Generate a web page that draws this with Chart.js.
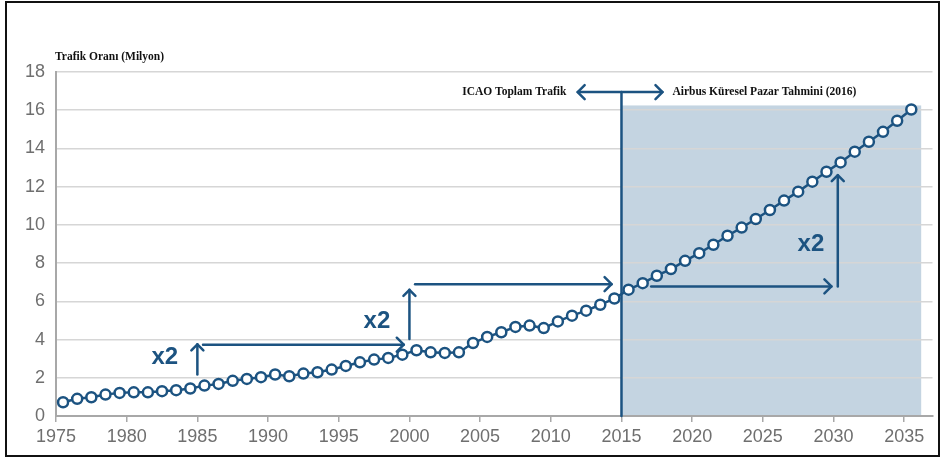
<!DOCTYPE html>
<html>
<head>
<meta charset="utf-8">
<script src="https://cdn.jsdelivr.net/npm/chart.js@4.4.0/dist/chart.umd.min.js"></script>
<style>
html, body { margin: 0; padding: 0; background: #fff; }
#wrap { position: relative; width: 940px; height: 459px; }
#frame { position: absolute; left: 5px; top: 1px; width: 931px; height: 452px; border: 2px solid #111; pointer-events: none; }
</style>
</head>
<body>
<div id="wrap">
  <canvas id="chart" width="940" height="459"></canvas>
  <div id="frame"></div>
</div>
<script>
// yearly values (points sit mid-year)
const years = [1975, 1976, 1977, 1978, 1979, 1980, 1981, 1982, 1983, 1984,
               1985, 1986, 1987, 1988, 1989, 1990, 1991, 1992, 1993, 1994,
               1995, 1996, 1997, 1998, 1999, 2000, 2001, 2002, 2003, 2004,
               2005, 2006, 2007, 2008, 2009, 2010, 2011, 2012, 2013, 2014,
               2015, 2016, 2017, 2018, 2019, 2020, 2021, 2022, 2023, 2024,
               2025, 2026, 2027, 2028, 2029, 2030, 2031, 2032, 2033, 2034, 2035];
const traffic = [0.72, 0.90, 0.98, 1.12, 1.21, 1.24, 1.24, 1.30, 1.35, 1.44,
                 1.59, 1.68, 1.84, 1.94, 2.03, 2.17, 2.08, 2.22, 2.29, 2.43,
                 2.62, 2.81, 2.95, 3.04, 3.21, 3.44, 3.33, 3.30, 3.33, 3.82,
                 4.14, 4.38, 4.66, 4.73, 4.60, 4.95, 5.25, 5.51, 5.82, 6.15,
                 6.61, 6.95, 7.34, 7.69, 8.12, 8.52, 8.96, 9.43, 9.86, 10.31,
                 10.78, 11.27, 11.74, 12.26, 12.78, 13.27, 13.83, 14.35, 14.87, 15.45, 16.04];
const xTickLabels = ['1975', '1980', '1985', '1990', '1995', '2000', '2005',
                     '2010', '2015', '2020', '2025', '2030', '2035'];
const yTickLabels = ['0', '2', '4', '6', '8', '10', '12', '14', '16', '18'];

const BLUE = '#1c5381';
const SHADE = '#c4d4e1';
const GREY_TXT = '#6f6f6f';

function head(ctx, x, y, dir, s) {
  ctx.beginPath();
  if (dir === 'right') { ctx.moveTo(x - s, y - s); ctx.lineTo(x, y); ctx.lineTo(x - s, y + s); }
  if (dir === 'left') { ctx.moveTo(x + s, y - s); ctx.lineTo(x, y); ctx.lineTo(x + s, y + s); }
  if (dir === 'up') { ctx.moveTo(x - s, y + s); ctx.lineTo(x, y); ctx.lineTo(x + s, y + s); }
  ctx.stroke();
}

function line(ctx, x0, y0, x1, y1) {
  ctx.beginPath();
  ctx.moveTo(x0, y0);
  ctx.lineTo(x1, y1);
  ctx.stroke();
}

const overlay = {
  id: 'overlay',
  beforeDraw(chart) {
    const { ctx, scales: { x, y } } = chart;
    // forecast region 2015 -> end
    ctx.save();
    ctx.fillStyle = SHADE;
    const x0 = x.getPixelForValue(2015), x1 = x.getPixelForValue(2036.2);
    const y0 = y.getPixelForValue(16.25), y1 = y.getPixelForValue(0);
    ctx.fillRect(x0, y0, x1 - x0, y1 - y0);
    ctx.restore();
  },
  beforeDatasetsDraw(chart) {
    const { ctx, scales: { x, y } } = chart;
    const X = v => x.getPixelForValue(v), Y = v => y.getPixelForValue(v);
    ctx.save();
    ctx.strokeStyle = BLUE;
    ctx.lineWidth = 2.5;
    ctx.lineCap = 'round';
    ctx.lineJoin = 'round';

    // 2015 divider + double arrow
    line(ctx, X(2015), Y(0), X(2015), Y(16.95));
    line(ctx, X(2011.9), Y(16.95), X(2017.9), Y(16.95));
    head(ctx, X(2011.9), Y(16.95), 'left', 7);
    head(ctx, X(2017.9), Y(16.95), 'right', 7);

    // x2 (1985 -> 2000)
    line(ctx, X(1985), Y(2.17), X(1985), Y(3.75));
    head(ctx, X(1985), Y(3.75), 'up', 6);
    line(ctx, X(1985.4), Y(3.73), X(1999.6), Y(3.73));
    head(ctx, X(1999.6), Y(3.73), 'right', 7);

    // x2 (2000 -> 2015)
    line(ctx, X(2000), Y(4.03), X(2000), Y(6.6));
    head(ctx, X(2000), Y(6.6), 'up', 6);
    line(ctx, X(2000.4), Y(6.9), X(2014.3), Y(6.9));
    head(ctx, X(2014.3), Y(6.9), 'right', 7);

    // x2 (2015 -> 2030)
    line(ctx, X(2017.1), Y(6.78), X(2029.85), Y(6.78));
    head(ctx, X(2029.85), Y(6.78), 'right', 7);
    line(ctx, X(2030.3), Y(6.78), X(2030.3), Y(12.6));
    head(ctx, X(2030.3), Y(12.6), 'up', 6);

    ctx.fillStyle = BLUE;
    ctx.font = 'bold 24px "Liberation Sans", Arial, sans-serif';
    ctx.textAlign = 'center';
    ctx.textBaseline = 'middle';
    ctx.fillText('x2', X(1982.7), Y(3.05));
    ctx.fillText('x2', X(1997.7), Y(4.93));
    ctx.fillText('x2', X(2028.4), Y(8.96));

    ctx.fillStyle = '#111';
    ctx.font = 'bold 11.5px "Liberation Serif", "Times New Roman", serif';
    ctx.textAlign = 'right';
    ctx.fillText('ICAO Toplam Trafik', X(2011.1), Y(16.95));
    ctx.textAlign = 'left';
    ctx.fillText('Airbus Küresel Pazar Tahmini (2016)', X(2018.6), Y(16.95));
    ctx.fillText('Trafik Oranı (Milyon)', chart.chartArea.left - 1, chart.chartArea.top - 15);
    ctx.restore();
  }
};

const ctx = document.getElementById('chart').getContext('2d');
const chart = new Chart(ctx, {
  type: 'line',
  data: {
    datasets: [{
      data: years.map((yr, i) => ({ x: yr + 0.5, y: traffic[i] })),
      borderColor: BLUE,
      borderWidth: 2.5,
      pointRadius: 5,
      pointBorderWidth: 2.5,
      pointBackgroundColor: '#fff',
      pointBorderColor: BLUE,
      tension: 0
    }]
  },
  options: {
    responsive: false,
    animation: false,
    layout: { padding: { left: 0, top: 72, right: 7, bottom: 0 } },
    plugins: { legend: { display: false }, tooltip: { enabled: false } },
    scales: {
      x: {
        type: 'linear',
        min: 1975,
        max: 2037,
        afterBuildTicks: s => { s.ticks = xTickLabels.map(v => ({ value: Number(v) })); },
        afterFit: s => { s.height = 43; },
        ticks: {
          callback: v => String(v),
          color: GREY_TXT,
          padding: 4,
          maxRotation: 0,
          autoSkip: false,
          font: { family: '"Liberation Sans", Arial, sans-serif', size: 18 }
        },
        grid: { drawOnChartArea: false, tickLength: 6, color: '#a8a8a8', lineWidth: 1.5 },
        border: { color: '#a8a8a8', width: 2 }
      },
      y: {
        min: 0,
        max: 18,
        afterBuildTicks: s => { s.ticks = yTickLabels.map(v => ({ value: Number(v) })); },
        afterFit: s => { s.width = 56; },
        ticks: {
          color: GREY_TXT,
          padding: 11,
          font: { family: '"Liberation Sans", Arial, sans-serif', size: 18 }
        },
        grid: { drawTicks: false, color: '#d6d6d6', lineWidth: 1.5 },
        border: { color: '#a8a8a8', width: 2 }
      }
    }
  },
  plugins: [overlay]
});
</script>
</body>
</html>
